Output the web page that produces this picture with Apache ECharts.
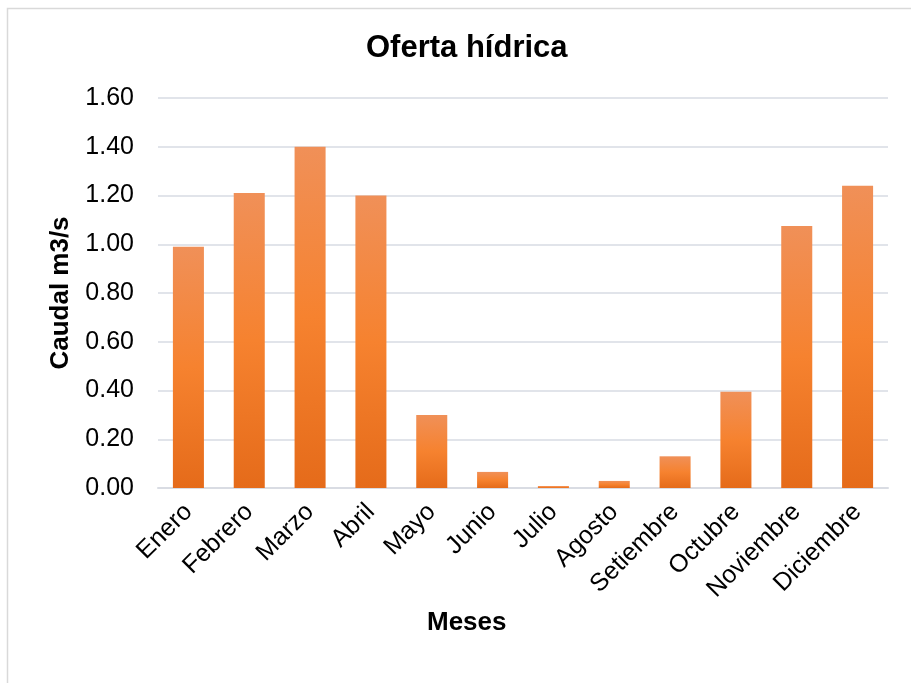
<!DOCTYPE html>
<html>
<head>
<meta charset="utf-8">
<script src="https://cdn.jsdelivr.net/npm/echarts@6/dist/echarts.min.js"></script>
<style>html,body{margin:0;padding:0;background:#fff;}#c{width:911px;height:683px;}</style>
</head>
<body>
<div id="c"></div>
<script>
var months = ['Enero','Febrero','Marzo','Abril','Mayo','Junio','Julio','Agosto','Setiembre','Octubre','Noviembre','Diciembre'];
var caudal = [0.99, 1.21, 1.40, 1.20, 0.30, 0.066, 0.008, 0.029, 0.13, 0.395, 1.075, 1.24];
var yTicks = {min: 0, max: 1.6, interval: 0.2};

var chart = echarts.init(document.getElementById('c'), null, {renderer: 'canvas'});
var FONT = '"Liberation Sans", Arial, sans-serif';
chart.setOption({
  animation: false,
  backgroundColor: '#ffffff',
  graphic: [{
    type: 'rect',
    shape: {x: 7.5, y: 8.5, width: 930, height: 700},
    style: {fill: 'none', stroke: '#D9D9D9', lineWidth: 1.5},
    silent: true
  }],
  title: [{
    text: 'Oferta hídrica',
    left: 361,
    top: 28,
    textStyle: {fontFamily: FONT, fontSize: 31, fontWeight: 'bold', color: '#000'}
  }, {
    text: 'Meses',
    left: 422,
    top: 605,
    textStyle: {fontFamily: FONT, fontSize: 26, fontWeight: 'bold', color: '#000'}
  }],
  grid: {left: 158, right: 23, top: 98, bottom: 195, containLabel: false},
  xAxis: {
    type: 'category',
    data: months,
    axisLine: {show: true, lineStyle: {color: '#D9DCE3', width: 2}},
    axisTick: {show: false},
    axisLabel: {rotate: 45, fontFamily: FONT, fontSize: 25, color: '#000', margin: 20, interval: 0}
  },
  yAxis: {
    type: 'value',
    min: yTicks.min, max: yTicks.max, interval: yTicks.interval,
    name: 'Caudal m3/s',
    nameLocation: 'middle',
    nameGap: 84,
    nameTextStyle: {fontFamily: FONT, fontSize: 26, fontWeight: 'bold', color: '#000'},
    axisLine: {show: false},
    axisTick: {show: false},
    axisLabel: {fontFamily: FONT, fontSize: 25, color: '#000', margin: 24,
      formatter: function(v){ return v.toFixed(2); }},
    splitLine: {lineStyle: {color: '#E1E4EA', width: 2}}
  },
  series: [{
    type: 'bar',
    data: caudal,
    barWidth: '51%',
    itemStyle: {
      color: new echarts.graphic.LinearGradient(0, 0, 0, 1, [
        {offset: 0, color: '#F09058'},
        {offset: 0.5, color: '#F6822F'},
        {offset: 1, color: '#E56B1A'}
      ])
    }
  }]
});
</script>
</body>
</html>
